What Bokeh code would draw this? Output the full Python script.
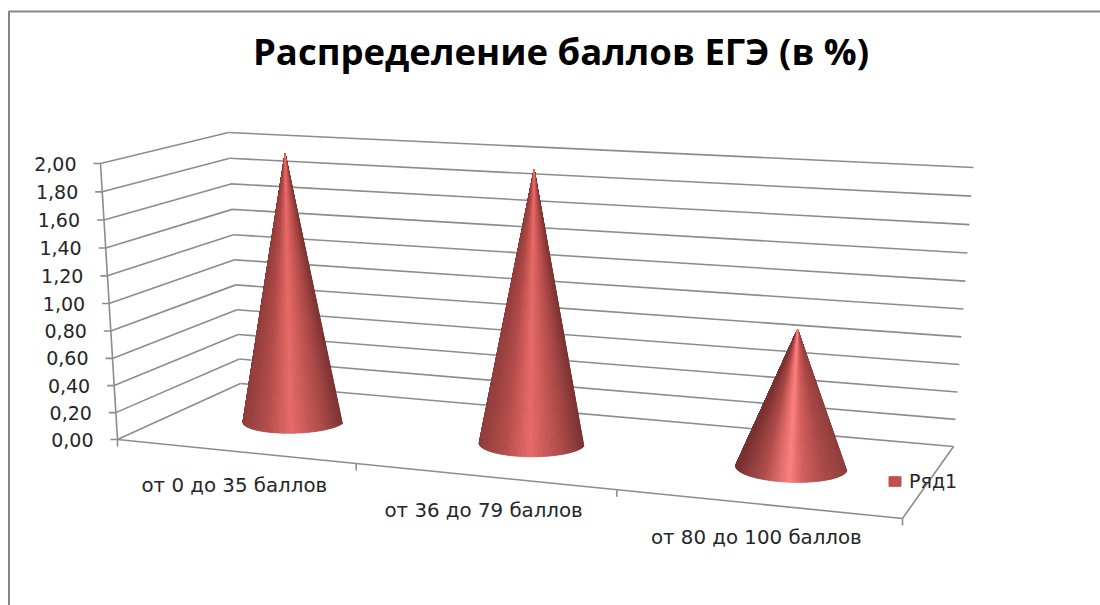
from bokeh.plotting import figure
from bokeh.embed import file_html
from bokeh.resources import INLINE
from bokeh.models import Legend, LegendItem
from bokeh.core.properties import value
import numpy as np

title_text = "Распределение баллов ЕГЭ (в %)"
categories = ["от 0 до 35 баллов", "от 36 до 79 баллов", "от 80 до 100 баллов"]
series_name = "Ряд1"
series_values = [2.0, 2.0, 1.0]
tick_values = [0.0, 0.2, 0.4, 0.6, 0.8, 1.0, 1.2, 1.4, 1.6, 1.8, 2.0]
tick_labels = ["0,00", "0,20", "0,40", "0,60", "0,80", "1,00", "1,20", "1,40", "1,60", "1,80", "2,00"]
value_max = 2.0

GRID = "#8c8c8c"
TXT = "#262626"


def homography(dst):
    src = [(0, 0), (3, 0), (3, 1), (0, 1)]
    A, b = [], []
    for (s, t), (u, w) in zip(src, dst):
        A.append([s, t, 1, 0, 0, 0, -s * u, -t * u]); b.append(u)
        A.append([0, 0, 0, s, t, 1, -s * w, -t * w]); b.append(w)
    return np.append(np.linalg.solve(np.array(A, float), np.array(b, float)), 1).reshape(3, 3)


H_floor = homography([(117, 439), (902, 518), (953, 446), (240, 383)])
# full-height vector at the floor corners: front-left, front-right, back-left, back-right
V_FL, V_FR = np.array([-17.0, -276.0]), np.array([17.0, -288.0])
V_BL, V_BR = np.array([-12.0, -251.0]), np.array([20.0, -279.0])


def apply(H, t, d):
    q = H @ np.array([t, d, 1.0])
    return q[:2] / q[2]


def project(t, d, v):
    f = v / value_max
    f = f / (1.03 - 0.03 * f)
    s = t / 3
    vec = (1 - d) * ((1 - s) * V_FL + s * V_FR) + d * ((1 - s) * V_BL + s * V_BR)
    return apply(H_floor, t, d) + f * vec


p = figure(width=1100, height=605, x_range=(0, 1100), y_range=(605, 0),
           output_backend="svg", toolbar_location=None, min_border=0)
p.axis.visible = False
p.grid.visible = False
p.outline_line_color = None
p.background_fill_color = "white"
p.border_fill_color = "white"

# chart frame
p.line([8.5, 8.5, 1100], [605, 11, 11], line_color="#868686", line_width=2)

# walls
xs0, ys0, xs1, ys1 = [], [], [], []


def seg(a, b):
    xs0.append(a[0]); ys0.append(a[1]); xs1.append(b[0]); ys1.append(b[1])


for v in tick_values:
    seg(project(0, 0, v), project(0, 1, v))
    seg(project(0, 1, v), project(3, 1, v))
    a = project(0, 0, v)
    seg(a, a + np.array([-7, 0]))
seg(project(0, 0, 0), project(0, 0, value_max))
seg(project(0, 0, 0), project(3, 0, 0))
seg(project(3, 0, 0), project(3, 1, 0))
for t in range(4):
    a = project(t, 0, 0)
    seg(a, a + np.array([0, 7]))
p.segment(xs0, ys0, xs1, ys1, line_color=GRID, line_width=1.6)

# value labels
lx = [project(0, 0, v)[0] - 24 for v in tick_values]
ly = [project(0, 0, v)[1] for v in tick_values]
p.text(lx, ly, text=tick_labels, text_align="right", text_baseline="middle",
       text_font=value("DejaVu Sans"), text_font_size="19px", text_color=TXT)

# category labels
cx = [project(i + 0.5, 0, 0)[0] for i in range(3)]
cy = [project(i + 0.5, 0, 0)[1] + 34 for i in range(3)]
p.text(cx, cy, text=categories, text_align="center", text_baseline="middle",
       text_font=value("DejaVu Sans"), text_font_size="19.8px", text_color=TXT)

# title
p.text([560.5], [50], text=[title_text], text_align="center", text_baseline="middle",
       text_font=value("Open Sans"), text_font_style="bold", text_font_size="36.5px", text_color="#000000")

# cones
stops_pos = [0.0, 0.25, 0.48, 0.6, 0.8, 1.0]
cone_stops = [
    ["#8f3f3d", "#b44c4a", "#e56967", "#cf5c5a", "#a94846", "#7a3432"],
    ["#8f3f3d", "#b44c4a", "#e56967", "#cf5c5a", "#a94846", "#7a3432"],
    ["#733130", "#ad4a48", "#fb7e7d", "#d25e5c", "#a94846", "#8f3f3d"],
]


def hex2rgb(c):
    return np.array([int(c[i:i + 2], 16) for i in (1, 3, 5)], float)


def shade(u, stops):
    rgb = [np.interp(u, stops_pos, [hex2rgb(c)[k] for c in stops]) for k in range(3)]
    return "#%02x%02x%02x" % tuple(int(round(x)) for x in rgb)


RADIUS = 0.2
RADIUS_D = 0.2
N = 140
for i, val in enumerate(series_values):
    t0, d0 = i + 0.5, 0.5
    apex = project(t0, d0, val)
    th = np.linspace(np.pi - 0.12, 2 * np.pi + 0.12, N + 1)
    pts = [apply(H_floor, t0 + RADIUS * np.cos(a), d0 + RADIUS_D * np.sin(a)) for a in th]
    xmin = min(q[0] for q in pts)
    xmax = max(q[0] for q in pts)
    xc = xmin + 0.48 * (xmax - xmin)
    # edges first, brightest band last, so the tip keeps the light colour
    order = sorted(range(N), key=lambda k: -abs((pts[k][0] + pts[k + 1][0]) / 2 - xc))
    xs, ys, cols = [], [], []
    for k in order:
        a, b = pts[k], pts[k + 1]
        xs.append([apex[0], a[0], b[0]])
        ys.append([apex[1], a[1], b[1]])
        cols.append(shade(((a[0] + b[0]) / 2 - xmin) / (xmax - xmin), cone_stops[i]))
    p.patches(xs, ys, fill_color=cols, line_color=cols, line_width=0.8)

# legend (its swatch renderer sits outside the visible range)
swatch = p.quad(left=[-60], right=[-50], top=[-60], bottom=[-50], fill_color="#c0504d", line_color="#c0504d")
legend = Legend(items=[LegendItem(label=series_name, renderers=[swatch])], location=(887, 113),
                background_fill_alpha=0, border_line_alpha=0, padding=0, margin=0,
                glyph_width=15, glyph_height=12, label_standoff=7, label_height=12,
                label_text_font="DejaVu Sans", label_text_font_size="19px", label_text_color=TXT)
p.add_layout(legend, "center")

open("out.html", "w").write(file_html(p, INLINE))
